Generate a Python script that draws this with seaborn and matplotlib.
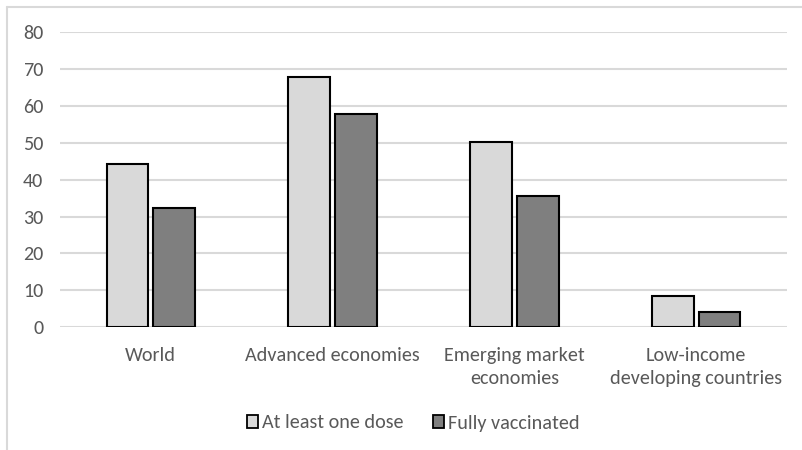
import matplotlib
matplotlib.use("Agg")
import matplotlib.pyplot as plt
import seaborn as sns
import pandas as pd
from matplotlib.patches import Patch
from matplotlib.lines import Line2D

categories = ["World", "Advanced economies", "Emerging market\neconomies",
              "Low-income\ndeveloping countries"]
series_names = ["At least one dose", "Fully vaccinated"]
at_least_one = [44.2, 67.8, 50.3, 8.4]
fully_vacc = [32.2, 57.9, 35.5, 4.2]
y_ticks = [0, 10, 20, 30, 40, 50, 60, 70, 80]

df = pd.DataFrame({
    "category": categories * 2,
    "series": [series_names[0]] * 4 + [series_names[1]] * 4,
    "value": at_least_one + fully_vacc,
})

sns.set_theme(style="white")
plt.rcParams["font.family"] = ["Carlito", "DejaVu Sans"]

fig = plt.figure(figsize=(8.03, 4.5), dpi=100)
ax = fig.add_axes([60 / 803, 1 - 327.3 / 450, (787 - 60) / 803, (327.3 - 32) / 450])

colors = ["#d9d9d9", "#7f7f7f"]
sns.barplot(data=df, x="category", y="value", hue="series", order=categories,
            hue_order=series_names, palette=colors, width=0.514, gap=0.11,
            edgecolor="black", linewidth=1.5, ax=ax, legend=False, zorder=3)

ax.set_ylim(0, 80)
ax.set_xlim(-0.5, 3.5)
ax.set_yticks(y_ticks)
ax.yaxis.grid(True, color="#d9d9d9", linewidth=1.5, zorder=0)
ax.set_axisbelow(True)
for s in ax.spines.values():
    s.set_visible(False)
fs = 14.5
ax.tick_params(axis="both", length=0, colors="#595959", labelsize=fs)
ax.tick_params(axis="y", pad=12)
ax.tick_params(axis="x", pad=14.5)
ax.set_xlabel("")
ax.set_ylabel("")
for lbl in ax.get_xticklabels():
    lbl.set_linespacing(1.4)

# chart frame
fig.add_artist(Line2D([7 / 803, 7 / 803], [0, 1 - 7 / 450], transform=fig.transFigure,
                      color="#d9d9d9", linewidth=1.5))
fig.add_artist(Line2D([7 / 803, 1], [1 - 7 / 450, 1 - 7 / 450], transform=fig.transFigure,
                      color="#d9d9d9", linewidth=1.5))

handles = [Patch(facecolor=c, edgecolor="black", linewidth=1.3) for c in colors]
fig.legend(handles, series_names, loc="center", bbox_to_anchor=(413 / 803, 1 - 423 / 450),
           ncol=2, frameon=False, fontsize=fs, handlelength=0.55, handleheight=0.6,
           handletextpad=0.2, columnspacing=1.45, labelcolor="#595959")

fig.savefig("out.png", dpi=100)
